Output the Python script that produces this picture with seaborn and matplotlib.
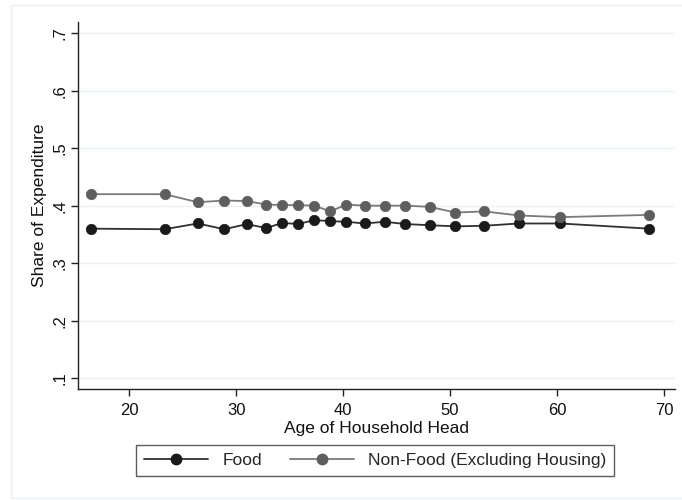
import matplotlib
matplotlib.use("Agg")
import matplotlib.pyplot as plt
import seaborn as sns
import pandas as pd
from matplotlib.lines import Line2D
from matplotlib.patches import Rectangle

age = [16.4, 23.3, 26.4, 28.9, 31.0, 32.8, 34.3, 35.8, 37.3, 38.8,
       40.3, 42.0, 43.9, 45.8, 48.1, 50.5, 53.2, 56.4, 60.3, 68.6]
food = [.360, .359, .369, .359, .368, .361, .370, .368, .375, .373,
        .372, .369, .372, .368, .366, .364, .365, .369, .369, .360]
nonfood = [.420, .420, .406, .409, .408, .402, .401, .401, .400, .390,
           .402, .400, .400, .400, .398, .388, .390, .383, .380, .384]
series_names = ["Food", "Non-Food (Excluding Housing)"]
x_ticks = [20, 30, 40, 50, 60, 70]
y_ticks = [.1, .2, .3, .4, .5, .6, .7]
y_ticklabels = [".1", ".2", ".3", ".4", ".5", ".6", ".7"]

df = pd.DataFrame({
    "age": age * 2,
    "share": food + nonfood,
    "series": [series_names[0]] * len(age) + [series_names[1]] * len(age),
})

sns.set_theme(style="white")
plt.rcParams["font.family"] = ["Liberation Sans", "DejaVu Sans"]

fig = plt.figure(figsize=(6.82, 5.00), dpi=100)
ax = fig.add_axes([78.3 / 682, 1 - 389 / 500, (675 - 78.3) / 682, (389 - 22) / 500])

styles = {
    series_names[0]: dict(line="#303030", mk="#1a1a1a"),
    series_names[1]: dict(line="#7a7a7a", mk="#5e5e5e"),
}
for name in series_names:
    sub = df[df["series"] == name]
    st = styles[name]
    sns.lineplot(data=sub, x="age", y="share", ax=ax, color=st["line"], lw=1.3,
                 marker="o", markersize=7.5, markerfacecolor=st["mk"],
                 markeredgecolor=st["mk"], markeredgewidth=0.5, legend=False,
                 zorder=3)

ax.set_xlim(15.23, 71.03)
ax.set_ylim(0.0809, 0.7197)
ax.set_xticks(x_ticks)
ax.set_xticklabels([str(t) for t in x_ticks])
ax.set_yticks(y_ticks)
ax.set_yticklabels(y_ticklabels, rotation=90, va="center")

for yv in y_ticks:
    ax.axhline(yv, color="#eaf2f3", lw=1.0, zorder=0)

for s in ["top", "right"]:
    ax.spines[s].set_visible(False)
for s in ["left", "bottom"]:
    ax.spines[s].set_color("#222222")
    ax.spines[s].set_linewidth(1.0)

ax.tick_params(axis="both", which="major", direction="out", length=5, width=1,
               color="#222222", labelsize=12, labelcolor="#111111", pad=3)
ax.tick_params(axis="x", pad=5)
ax.tick_params(axis="both", bottom=True, left=True)

ax.set_xlabel("Age of Household Head", fontsize=12.5, color="#111111", labelpad=2)
ax.set_ylabel("Share of Expenditure", fontsize=12.5, color="#111111", labelpad=4)

handles = [
    Line2D([], [], color=styles[n]["line"], lw=1.3, marker="o", markersize=7.5,
           markerfacecolor=styles[n]["mk"], markeredgecolor=styles[n]["mk"])
    for n in series_names
]
leg = fig.legend(handles, series_names, loc="center",
                 bbox_to_anchor=(375 / 682, 1 - 460.5 / 500), ncol=2,
                 fancybox=False, frameon=True, edgecolor="#333333",
                 fontsize=12.5, handlelength=3.7, handletextpad=0.8,
                 columnspacing=1.6, borderpad=0.45, borderaxespad=0)
leg.get_frame().set_linewidth(1.0)

fig.patches.append(Rectangle((11 / 682, 1 - 498 / 500), (690 - 11) / 682, (498 - 5) / 500,
                             transform=fig.transFigure, fill=False,
                             edgecolor="#eaf1f2", lw=1.0, zorder=0))

fig.savefig("out.png", dpi=100, facecolor="white")
